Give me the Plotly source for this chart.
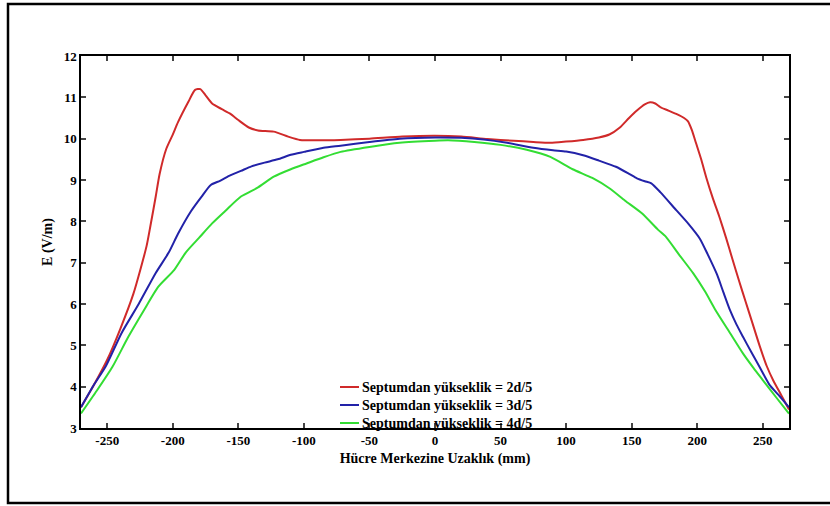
import plotly.graph_objects as go

# Red series: Septumdan yükseklik = 2d/5
red_x = [-270, -260, -250, -240, -230, -220, -217, -213, -210, -205, -200, -196, -188, -183, -179,
         -175, -170, -163, -156, -150, -142, -135, -123, -112, -103, -90, -72, -50, -25, 0,
         20, 40, 60, 75, 88, 100, 113, 125, 133, 141, 148, 154, 160, 164, 168, 172, 178, 184,
         190, 193, 196, 199, 203, 207, 212, 217, 222, 227, 232, 237, 242, 248, 253, 258, 264, 270]
red_y = [3.5, 4.05, 4.65, 5.4, 6.25, 7.4, 7.9, 8.6, 9.15, 9.75, 10.1, 10.4, 10.9, 11.18, 11.2,
         11.05, 10.85, 10.72, 10.6, 10.45, 10.27, 10.2, 10.17, 10.05, 9.97, 9.96, 9.97, 10.0, 10.05, 10.07,
         10.05, 9.99, 9.95, 9.92, 9.9, 9.93, 9.97, 10.03, 10.1, 10.27, 10.5, 10.68, 10.83, 10.88, 10.85, 10.76, 10.68, 10.6,
         10.5, 10.42, 10.2, 9.9, 9.5, 9.05, 8.55, 8.1, 7.6, 7.07, 6.55, 6.05, 5.55, 4.95, 4.5, 4.15, 3.8, 3.45]

# Blue series: Septumdan yükseklik = 3d/5
blue_x = [-270, -260, -251, -239, -226, -213, -203, -196, -186, -178, -171, -164, -157, -148, -140,
          -130, -120, -110, -100, -85, -72, -50, -27, 0, 20, 37, 55, 75, 90, 100, 113, 125, 138,
          148, 154, 160, 165, 172, 184, 193, 202, 208, 215, 220, 225, 230, 235, 241, 248, 255, 262, 270]
blue_y = [3.5, 4.05, 4.5, 5.3, 6.0, 6.75, 7.25, 7.7, 8.25, 8.6, 8.88, 8.98, 9.1, 9.22, 9.33,
          9.42, 9.5, 9.61, 9.68, 9.78, 9.83, 9.92, 10.0, 10.03, 10.02, 9.98, 9.9, 9.78, 9.72, 9.69, 9.6, 9.47, 9.32,
          9.15, 9.04, 8.97, 8.92, 8.7, 8.27, 7.95, 7.58, 7.2, 6.72, 6.28, 5.85, 5.5, 5.2, 4.85, 4.45, 4.05, 3.8, 3.5]

# Green series: Septumdan yükseklik = 4d/5
green_x = [-270, -258, -246, -234, -222, -211, -199, -190, -180, -170, -160, -148, -135, -123, -110,
           -98, -85, -72, -50, -27, 0, 10, 30, 50, 70, 88, 105, 120, 133, 145, 158, 170, 176,
           186, 197, 206, 214, 225, 235, 243, 250, 260, 270]
green_y = [3.35, 3.9, 4.48, 5.2, 5.85, 6.42, 6.82, 7.25, 7.6, 7.95, 8.25, 8.6, 8.82, 9.08, 9.26,
           9.4, 9.55, 9.68, 9.8, 9.9, 9.95, 9.96, 9.92, 9.85, 9.73, 9.56, 9.26, 9.05, 8.8, 8.5, 8.19, 7.8, 7.63,
           7.2, 6.74, 6.3, 5.85, 5.3, 4.8, 4.45, 4.16, 3.75, 3.35]

series_names = ["Septumdan yükseklik = 2d/5", "Septumdan yükseklik = 3d/5", "Septumdan yükseklik = 4d/5"]
colors = ["#d02a2a", "#2222a8", "#33dd33"]

x_ticks = [-250, -200, -150, -100, -50, 0, 50, 100, 150, 200, 250]
x_tick_labels = ["-250", "-200", "-150", "-100", "-50", "0", "50", "100", "150", "200", "250"]
y_ticks = [3, 4, 5, 6, 7, 8, 9, 10, 11, 12]

FONT = "Liberation Serif, Times New Roman, serif"

fig = go.Figure()
for xs, ys, name, col in zip([red_x, blue_x, green_x], [red_y, blue_y, green_y], series_names, colors):
    fig.add_trace(go.Scatter(x=xs, y=ys, mode="lines", name=name, showlegend=False,
                             line=dict(color=col, width=2, shape="spline", smoothing=0.6)))

L, R, T, B = 81, 41, 56, 78
W, H = 830, 506
pw, ph = W - L - R, H - T - B

def px(xp):
    return (xp - L) / pw

def py(yp):
    return (H - B - yp) / ph

fig.update_layout(
    width=W, height=H,
    margin=dict(l=L, r=R, t=T, b=B),
    paper_bgcolor="white", plot_bgcolor="white",
    font=dict(family=FONT, size=13, color="black", weight="bold"),
    showlegend=False,
    xaxis=dict(range=[-270, 270], tickvals=x_ticks, ticktext=x_tick_labels,
               ticks="inside", ticklen=5, tickwidth=1.5,
               showline=True, linecolor="black", linewidth=1.5, mirror="ticks", showgrid=False,
               zeroline=False, tickfont=dict(family=FONT, size=13, weight="bold"),
               title=dict(text="Hücre Merkezine Uzaklık (mm)", standoff=6,
                          font=dict(family=FONT, size=14, weight="bold"))),
    yaxis=dict(range=[3, 12], tickvals=y_ticks, ticks="inside", ticklen=5, tickwidth=1.5,
               showline=True, linecolor="black", linewidth=1.5, mirror="ticks", showgrid=False,
               zeroline=False, tickfont=dict(family=FONT, size=13, weight="bold"),
               title=dict(text="E (V/m)", standoff=8,
                          font=dict(family=FONT, size=14, weight="bold"))),
)

# manual legend (line sample + label)
leg_rows = [387, 405, 423]
for yrow, name, col in zip(leg_rows, series_names, colors):
    fig.add_shape(type="line", xref="paper", yref="paper",
                  x0=px(340), x1=px(359), y0=py(yrow), y1=py(yrow),
                  line=dict(color=col, width=2), layer="above")
    fig.add_annotation(xref="paper", yref="paper", x=px(360), y=py(yrow),
                       xanchor="left", yanchor="middle", showarrow=False,
                       text=name, font=dict(family=FONT, size=14, color="black", weight="bold"))

# outer frame
fig.add_shape(type="rect", xref="paper", yref="paper",
              x0=px(8), x1=px(832), y0=py(503), y1=py(4),
              line=dict(color="black", width=2.5), layer="above")

fig.write_html("out.html")
